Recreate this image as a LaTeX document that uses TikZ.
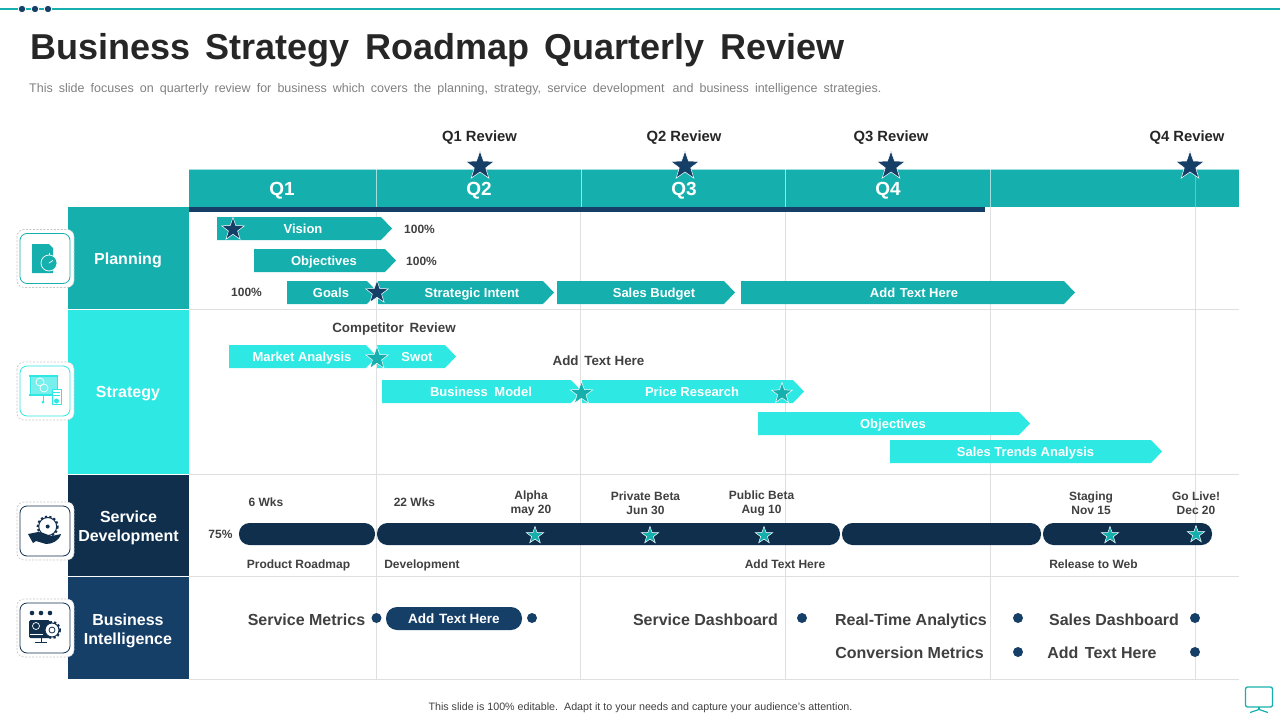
\documentclass[tikz,border=0pt]{standalone}
\usepackage{fontspec}
\setmainfont{Liberation Sans}
\usetikzlibrary{shapes.geometric}
\definecolor{tealbar}{RGB}{21,176,174}
\definecolor{aquabar}{RGB}{46,232,228}
\definecolor{navybar}{RGB}{15,47,77}
\definecolor{bluebar}{RGB}{22,63,104}
\definecolor{gridgray}{RGB}{221,223,225}
\definecolor{inktext}{RGB}{64,64,64}
\def\fs#1{\fontsize{#1}{#1}\selectfont}
\def\chevbar[#1](#2:#3:#4:#5){\fill[#1] (#2, #4) -- ({#3-11}, #4) -- (#3, {(#4+#5)/2}) -- ({#3-11}, #5) -- (#2, #5) -- cycle;}
\def\iconbox[#1](#2:#3){\draw[black!22, dash pattern=on 2 off 1.5, line width=0.6, fill=white, rounded corners=7] ({#2-28}, {#3-29}) rectangle ({#2+29}, {#3+29}); \draw[#1, fill=white, line width=0.8, rounded corners=7] ({#2-25}, {#3-25}) rectangle ({#2+25}, {#3+25});}
\def\gearicon[#1](#2:#3:#4){\draw[#1, line width=2, dash pattern=on 2.2 off 2.2] (#2, #3) circle ({#4+1}); \draw[#1, fill=white, line width=1] (#2, #3) circle (#4);}
\tikzset{
	barlabel/.style={text=white, font=\fs{13}\bfseries, inner sep=0, text height=9.3, text depth=0},
	quarter/.style={text=white, font=\fs{19}\bfseries, inner sep=0, text height=13.6, text depth=0},
	rowlabel/.style={text=white, font=\fs{16}\bfseries, inner sep=0, text height=11.5, text depth=0},
	rowlabeltwo/.style={text=white, font=\fs{16}\bfseries, inner sep=0, align=center},
	review/.style={text=black!85, font=\fs{14.8}\bfseries, inner sep=0, text height=10.6, text depth=0},
	note/.style={text=inktext, font=\fs{12}\bfseries, inner sep=0, text height=8.6, text depth=0},
	notetwo/.style={text=inktext, font=\fs{12}\bfseries, inner sep=0, align=center},
	callout/.style={text=inktext, font=\fs{13.4}\bfseries, inner sep=0, text height=9.6, text depth=0},
	metric/.style={text=inktext, font=\fs{16}\bfseries, inner sep=0, text height=11.5, text depth=0},
	bigstar/.style={star, star points=5, star point ratio=2.5, draw=white, line width=0.5, fill=bluebar, inner sep=0, minimum size=#1},
	aquastar/.style={star, star points=5, star point ratio=2.5, draw=white, line width=0.5, fill=tealbar, inner sep=0, minimum size=#1},
	dotmark/.style={circle, fill=bluebar, inner sep=0, minimum size=10},
	topdot/.style={circle, fill=bluebar, draw=white, line width=0.8, inner sep=0, minimum size=7.5},
	pill/.style={fill=navybar, rounded corners=10.5},
	gridline/.style={gridgray, line width=1}
}
\begin{document}
\begin{tikzpicture}[x=1pt, y=-1pt]
			\useasboundingbox (0, 0) rectangle (1280, 720);
			%%%%% TOP STRIP %%%%%
			\draw[tealbar, line width=1.8] (0, 9) -- (1280, 9);
			\node[topdot] (dota) at (22, 9) {};
			\node[topdot] (dotb) at (35, 9) {};
			\node[topdot] (dotc) at (48, 9) {};
			
			\node[anchor=west, inner sep=0, text=black!85, font=\fs{36}\bfseries] (title) at (30, 50) {Business\hspace{5.5pt} Strategy\hspace{5.5pt} Roadmap\hspace{5.5pt} Quarterly\hspace{5.5pt} Review};
			\node[anchor=west, inner sep=0, text=black!50, font=\fs{12.5}] (subtitle) at (29, 89.3) {\spaceskip=6.1pt This slide focuses on quarterly review for business which covers the planning, strategy, service development\hspace{2pt} and business intelligence strategies.};
			
			%%%%% GRID %%%%%
			\draw[gridline] (376.6, 207) -- (376.6, 679);
			\draw[gridline] (580.8, 207) -- (580.8, 679);
			\draw[gridline] (785.6, 207) -- (785.6, 679);
			\draw[gridline] (990.6, 207) -- (990.6, 679);
			\draw[gridline] (1195, 207) -- (1195, 679);
			\draw[gridline] (189, 309.5) -- (1239, 309.5);
			\draw[gridline] (189, 474.5) -- (1239, 474.5);
			\draw[gridline] (189, 576.5) -- (1239, 576.5);
			\draw[gridline] (189, 679.5) -- (1239, 679.5);
			
			%%%%% HEADER %%%%%
			\fill[tealbar] (189, 169) rectangle (1239, 207);
			\fill[bluebar] (189, 207) rectangle (985, 212);
			\draw[white, opacity=0.6] (189, 169) -- (1239, 169);
			\draw[white, opacity=0.6] (376.6, 169) -- (376.6, 207);
			\draw[white, opacity=0.6] (580.8, 169) -- (580.8, 207);
			\draw[white, opacity=0.6] (785.6, 169) -- (785.6, 207);
			\draw[white, opacity=0.6] (990.6, 169) -- (990.6, 207);
			\draw[white, opacity=0.3] (1195, 169) -- (1195, 207);
			\node[quarter] (qa) at (282, 188.5) {Q1};
			\node[quarter] (qb) at (479, 188.5) {Q2};
			\node[quarter] (qc) at (684, 188.5) {Q3};
			\node[quarter] (qd) at (888, 188.5) {Q4};
			
			\node[review] (reviewa) at (479.5, 136) {Q1 Review};
			\node[review] (reviewb) at (684, 136) {Q2 Review};
			\node[review] (reviewc) at (891, 136) {Q3 Review};
			\node[review] (reviewd) at (1187, 136) {Q4 Review};
			\node[bigstar=30] (stara) at (480, 166) {};
			\node[bigstar=30] (starb) at (685, 166) {};
			\node[bigstar=30] (starc) at (891, 166) {};
			\node[bigstar=30] (stard) at (1190, 166) {};
			
			%%%%% ROW HEADS %%%%%
			\fill[tealbar] (68, 207) rectangle (189, 309);
			\fill[aquabar] (68, 310) rectangle (189, 474);
			\fill[navybar] (68, 475) rectangle (189, 576);
			\fill[bluebar] (68, 577) rectangle (189, 679);
			\node[rowlabel] (planning) at (128, 259) {Planning};
			\node[rowlabel] (strategy) at (128, 392) {Strategy};
			\node[rowlabeltwo] (service) at (128.5, 528) {Service\\[3pt]Development};
			\node[rowlabeltwo] (business) at (128, 631) {Business\\[3pt]Intelligence};
			
			%%%%% ICONS %%%%%
			\iconbox[tealbar](45:258.5)
			\fill[tealbar] (32, 244) -- (49, 244) -- (53, 248) -- (53, 273) -- (32, 273) -- cycle;
			\draw[white, fill=tealbar, line width=0.7] (49, 263) circle (8);
			\draw[white, line width=0.7] (49, 263) -- (53, 260.5);
			\draw[white, line width=0.7] (49, 253) -- (49, 255);
			
			\iconbox[aquabar](45:391)
			\draw[aquabar, fill=aquabar!65, line width=0.8] (30, 376) rectangle (57, 395);
			\draw[aquabar, line width=1.6] (29, 376) -- (58, 376);
			\draw[aquabar, line width=1.6] (29, 395) -- (52, 395);
			\draw[white, line width=0.7] (40, 382) circle (4);
			\draw[white, line width=0.7] (44, 388) circle (4);
			\draw[aquabar] (43, 395) -- (43, 402);
			\fill[aquabar] (43, 402) circle (1.5);
			\draw[aquabar, fill=white, line width=0.8] (52, 389) rectangle (61, 404);
			\draw[aquabar] (53, 392) -- (60, 392);
			\draw[aquabar] (53, 395) -- (60, 395);
			\fill[aquabar] (56.5, 401) circle (2.5);
			
			\iconbox[navybar](45:531)
			\gearicon[navybar](47.7:526.5:9)
			\fill[navybar] (47.7, 526.5) circle (2);
			\fill[navybar] (28, 534) -- (38, 532) .. controls (44, 532) and (48, 536) .. (52, 536) -- (61, 534) .. controls (59, 541) and (52, 544) .. (46, 544) -- (36, 541) -- (33, 543) -- cycle;
			
			\iconbox[navybar](45:628)
			\fill[navybar] (32, 613) circle (2.3);
			\fill[navybar] (41, 613) circle (2.3);
			\fill[navybar] (50, 613) circle (2.3);
			\fill[navybar, rounded corners=1.5] (29, 620) rectangle (50, 638);
			\draw[white, line width=0.7] (36, 626) circle (3.5);
			\draw[white, line width=0.7] (30, 634) -- (43, 634);
			\draw[navybar, line width=0.8] (41, 638) -- (41, 642);
			\draw[navybar, line width=0.8] (35, 642) -- (47, 642);
			\gearicon[navybar](52:630:7)
			\draw[navybar, line width=0.8] (52, 630) circle (3);
			
			%%%%% PLANNING BARS %%%%%
			\chevbar[tealbar](217:392:217:240)
			\chevbar[tealbar](254:396:249:272)
			\chevbar[tealbar](287:378:281:304)
			\chevbar[tealbar](378:554:281:304)
			\chevbar[tealbar](557:735:281:304)
			\chevbar[tealbar](741:1075:281:304)
			\node[barlabel] (vision) at (303, 228.5) {Vision};
			\node[barlabel] (objectives) at (324, 260.5) {Objectives};
			\node[barlabel] (goals) at (331, 293) {Goals};
			\node[barlabel] (intent) at (472, 293) {Strategic Intent};
			\node[barlabel] (budget) at (654, 293) {Sales Budget};
			\node[barlabel] (addtext) at (914, 293) {Add\hspace{1pt} Text Here};
			\node[bigstar=24] (starvision) at (233, 229.5) {};
			\node[bigstar=24] (stargoals) at (377, 292.5) {};
			\node[note] (pcta) at (419.5, 229.5) {100\%};
			\node[note] (pctb) at (421.5, 261.5) {100\%};
			\node[note] (pctc) at (246.5, 292.5) {100\%};
			
			%%%%% STRATEGY BARS %%%%%
			\chevbar[aquabar](229:377:345:368)
			\chevbar[aquabar](377:456:345:368)
			\chevbar[aquabar](382:582:380:403)
			\chevbar[aquabar](582:804:380:403)
			\chevbar[aquabar](758:1030:412:435)
			\chevbar[aquabar](890:1162:440:463)
			\node[barlabel] (market) at (302, 356.5) {Market Analysis};
			\node[barlabel] (swot) at (417, 356.5) {Swot};
			\node[barlabel] (model) at (481, 391.5) {Business\hspace{3pt} Model};
			\node[barlabel] (price) at (692, 391.5) {Price Research};
			\node[barlabel] (objectivesb) at (893, 424) {Objectives};
			\node[barlabel] (trends) at (1025.5, 451.5) {Sales Trends Analysis};
			\node[aquastar=24] (starmarket) at (377, 358.5) {};
			\node[aquastar=24] (starmodel) at (581.5, 393.5) {};
			\node[aquastar=22] (starprice) at (782, 393.5) {};
			\node[callout] (competitor) at (394, 327.5) {Competitor\hspace{2pt} Review};
			\node[callout] (addnote) at (598.5, 360.5) {Add\hspace{2pt} Text Here};
			
			%%%%% SERVICE BARS %%%%%
			\fill[pill] (239, 523) rectangle (375, 545);
			\fill[pill] (377, 523) rectangle (840, 545);
			\fill[pill] (842, 523) rectangle (1041, 545);
			\fill[pill] (1043, 523) rectangle (1212, 545);
			\node[aquastar=18] (staralpha) at (535, 535.5) {};
			\node[aquastar=18] (starprivate) at (650, 535.5) {};
			\node[aquastar=18] (starpublic) at (764, 535.5) {};
			\node[aquastar=18] (starstaging) at (1110, 535.5) {};
			\node[aquastar=18] (starlive) at (1196, 534.5) {};
			\node[note] (wksa) at (266, 502.5) {6 Wks};
			\node[note] (wksb) at (414.5, 502.5) {22 Wks};
			\node[notetwo] (alpha) at (531, 503) {Alpha\\[2pt]may 20};
			\node[notetwo] (private) at (645.5, 503) {Private Beta\\[2pt]Jun 30};
			\node[notetwo] (public) at (761.5, 503) {Public Beta\\[2pt]Aug 10};
			\node[notetwo] (staging) at (1091, 503) {Staging\\[2pt]Nov 15};
			\node[notetwo] (golive) at (1196, 503) {Go Live!\\[2pt]Dec 20};
			\node[note] (pctd) at (220.5, 534) {75\%};
			\node[note] (roadmap) at (298.5, 564.5) {Product Roadmap};
			\node[note] (development) at (422, 564.5) {Development};
			\node[note] (addbelow) at (785, 564.5) {Add Text Here};
			\node[note] (release) at (1093.5, 564.5) {Release to Web};
			
			%%%%% INTELLIGENCE ROW %%%%%
			\node[metric] (metrics) at (306.5, 619.5) {Service Metrics};
			\node[dotmark] (dotmetrics) at (376.5, 618) {};
			\fill[bluebar, rounded corners=11] (386, 607) rectangle (522, 630);
			\node[barlabel, font=\fs{13.5}\bfseries] (addpill) at (454, 618.5) {Add\hspace{1pt} Text Here};
			\node[dotmark] (dotpill) at (532, 618) {};
			\node[metric] (dashboard) at (705.5, 619.5) {Service Dashboard};
			\node[dotmark] (dotdashboard) at (802, 618) {};
			\node[metric] (realtime) at (911, 619.5) {Real-Time Analytics};
			\node[dotmark] (dotrealtime) at (1018, 618) {};
			\node[metric] (sales) at (1114, 619.5) {Sales Dashboard};
			\node[dotmark] (dotsales) at (1195, 618) {};
			\node[metric] (conversion) at (909.5, 652.5) {Conversion Metrics};
			\node[dotmark] (dotconversion) at (1018, 652) {};
			\node[metric] (addmetric) at (1102, 652.5) {Add\hspace{2pt} Text Here};
			\node[dotmark] (dotadd) at (1195, 652) {};
			
			%%%%% FOOTER %%%%%
			\node[text=inktext, font=\fs{10.7}, inner sep=0, text height=7.7, text depth=0] (footer) at (640.5, 707) {This slide is 100\% editable.\hspace{2pt} Adapt it to your needs and capture your audience's attention.};
			\draw[tealbar, line width=1.3, rounded corners=2] (1245.5, 687) rectangle (1272.5, 707);
			\draw[tealbar, line width=1.2] (1259, 707) -- (1259, 710);
			\draw[tealbar, line width=1.2] (1250, 712.5) -- (1259, 709.5) -- (1268, 712.5);
			%%%%% END %%%%%
		\end{tikzpicture}
\end{document}
